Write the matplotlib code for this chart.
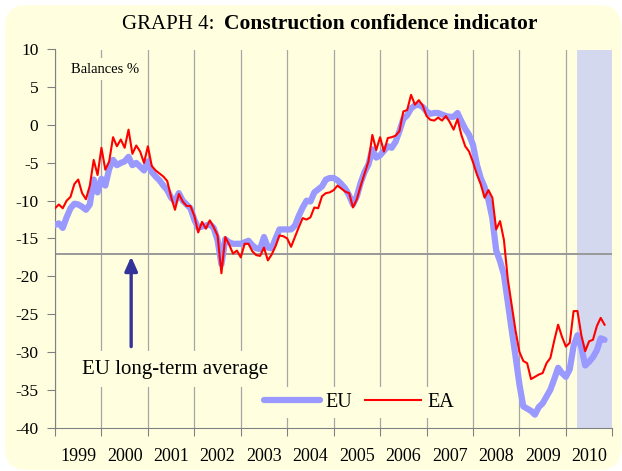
import matplotlib.pyplot as plt
import numpy as np
from matplotlib.patches import FancyBboxPatch
from matplotlib.transforms import IdentityTransform

# monthly balances, Jan 1999 .. Nov 2010
eu = [
    -13.2, -13.0, -13.6, -12.2, -11.0, -10.4, -10.5, -10.8, -11.2, -10.5, -7.2, -8.9,
    -7.1, -8.0, -5.8, -4.6, -5.3, -5.0, -4.8, -4.2, -5.3, -5.0, -5.5, -6.0,
    -4.8, -6.2, -6.8, -7.3, -8.0, -8.6, -9.6, -10.1, -9.0, -10.0, -10.5, -11.0,
    -12.5, -13.6, -13.4, -13.3, -13.1, -13.6, -15.2, -18.4, -15.1, -15.5, -15.7, -15.7,
    -15.7, -15.5, -15.3, -15.9, -16.3, -16.4, -14.8, -16.2, -16.3, -15.0, -13.8, -13.8,
    -13.8, -13.8, -13.3, -12.0, -10.9, -10.0, -10.1, -8.9, -8.5, -8.1, -7.2, -7.0,
    -7.0, -7.3, -7.8, -8.4, -9.3, -10.5, -9.4, -7.6, -6.2, -5.2, -3.2, -4.3,
    -4.0, -3.4, -2.8, -3.0, -2.2, -0.8, 0.8, 1.3, 2.2, 2.6, 2.7, 2.4,
    1.8, 1.5, 1.6, 1.6, 1.4, 1.2, 1.1, 1.1, 1.6, 0.5, -0.5, -1.3,
    -2.6, -5.2, -7.0, -8.2, -9.9, -12.3, -16.6, -18.0, -19.8, -23.5, -27.1, -30.6,
    -34.3, -37.2, -37.5, -37.8, -38.3, -37.3, -36.8, -35.9, -35.0, -33.6, -32.1, -32.8,
    -33.3, -32.3, -29.2, -27.8, -29.4, -31.8, -31.3, -30.7, -29.8, -28.2, -28.4,
]
ea = [
    -11.0, -10.5, -11.0, -10.0, -9.5, -7.8, -7.2, -9.0, -9.8, -8.0, -4.6, -6.6,
    -3.0, -5.9, -4.8, -1.6, -2.8, -1.9, -3.0, -0.6, -3.8, -2.7, -3.5, -5.0,
    -2.8, -5.4, -6.0, -6.4, -6.8, -7.4, -9.5, -11.2, -9.1, -10.1, -10.7, -10.7,
    -12.0, -14.2, -12.8, -13.7, -12.6, -13.5, -14.6, -19.6, -14.8, -15.8, -17.0, -16.6,
    -17.5, -15.7, -15.7, -16.7, -17.2, -17.3, -16.2, -17.9, -17.1, -16.0, -14.6, -14.7,
    -15.0, -16.1, -14.8, -13.5, -12.3, -12.5, -12.2, -10.9, -11.0, -9.4, -9.0, -8.9,
    -8.6, -8.0, -8.4, -8.8, -9.0, -10.9, -9.8, -8.0, -6.4, -4.8, -1.3, -3.3,
    -1.6, -3.5, -1.7, -1.6, -1.4, -0.8, 1.8, 2.0, 4.0, 2.7, 3.3, 2.6,
    1.2, 0.7, 0.6, 1.0, 0.6, 1.2, 0.4, -0.6, 0.8, -1.3, -2.8, -3.5,
    -4.9, -6.5, -7.8, -9.6, -8.6, -9.6, -13.8, -12.7, -15.2, -20.4, -23.8, -27.2,
    -30.0, -31.2, -31.5, -33.6, -33.3, -33.0, -32.8, -31.5, -30.8, -28.5, -26.4, -28.0,
    -29.3, -28.8, -24.6, -24.6, -27.8, -29.9, -28.6, -28.4, -26.6, -25.5, -26.4,
]
months = 1999 + np.arange(len(eu)) / 12
year_labels = [str(y) for y in range(1999, 2011)]
long_term_avg = -17.1

CREAM = "#FFFFE0"
SHADE = "#D3D8EF"

plt.rcParams["font.family"] = ["Liberation Serif", "DejaVu Serif"]
plt.rcParams["axes.unicode_minus"] = False

fig = plt.figure(figsize=(6.22, 4.71), dpi=100, facecolor="white")
fig.add_artist(FancyBboxPatch((5, 1), 616, 465, boxstyle="round,pad=0,rounding_size=22",
                              transform=IdentityTransform(), facecolor=CREAM, edgecolor="none", zorder=0))

ax = fig.add_axes([55 / 622, 1 - 427.5 / 471, (612.3 - 55) / 622, (427.5 - 49.5) / 471])
ax.set_facecolor("none")

ax.axvspan(2010.25, 2011, color=SHADE, lw=0, zorder=1)
ax.axhline(long_term_avg, color="#999999", lw=1.4, zorder=1.5)
ax.plot(months, eu, color="#9999FF", lw=4.5, solid_capstyle="round", solid_joinstyle="round", label="EU", zorder=3)
ax.plot(months, ea, color="#FF0000", lw=1.5, label="EA", zorder=4)

ax.set_xlim(1999, 2011)
ax.set_ylim(-40, 10)
ax.set_xticks(np.arange(1999, 2012))
ax.set_xticklabels([])
ax.set_xticks(np.arange(1999, 2011) + 0.5, minor=True)
ax.set_xticklabels(year_labels, minor=True)
ax.set_yticks(np.arange(-40, 11, 5))
ax.tick_params(axis="x", which="major", length=6, color="#808080")
ax.tick_params(axis="x", which="minor", length=0, labelsize=13, pad=15)
ax.tick_params(axis="y", length=6, color="#808080", labelsize=12.5, pad=6)
ax.xaxis.grid(True, which="major", color="#A6A6A6", lw=0.9)
ax.set_axisbelow(True)
for side in ("top", "right"):
    ax.spines[side].set_visible(False)
for side in ("left", "bottom"):
    ax.spines[side].set_color("#808080")

ax.text(1999.34, 7.4, "Balances %", ha="left", va="center", fontsize=10.5, zorder=2,
        bbox=dict(boxstyle="square,pad=0.3", facecolor=CREAM, edgecolor="none"))
ax.text(1999.58, -32.3, "EU long-term average", ha="left", va="center", fontsize=15, zorder=2,
        bbox=dict(boxstyle="square,pad=0.4", facecolor=CREAM, edgecolor="none"))
ax.annotate("", xy=(2000.64, -17.4), xytext=(2000.64, -29.3),
            arrowprops=dict(arrowstyle="-|>,head_width=0.38,head_length=0.85", mutation_scale=10,
                            color="#333399", lw=2.4, shrinkA=0, shrinkB=0), zorder=5)

leg = ax.legend(loc="center", bbox_to_anchor=(0.545, 0.066), ncol=2, fontsize=14.5, handlelength=2.8,
                handletextpad=0.3, columnspacing=0.6, borderpad=0.3, frameon=True, fancybox=False,
                facecolor=CREAM, edgecolor="none", framealpha=1)
leg.set_zorder(6)

fig.text(214 / 622, 1 - 29 / 471, "GRAPH 4:", ha="right", va="baseline", fontsize=15)
fig.text(224 / 622, 1 - 29 / 471, "Construction confidence indicator", ha="left", va="baseline",
         fontsize=15.5, fontweight="bold")

fig.savefig("out.png", dpi=100)
